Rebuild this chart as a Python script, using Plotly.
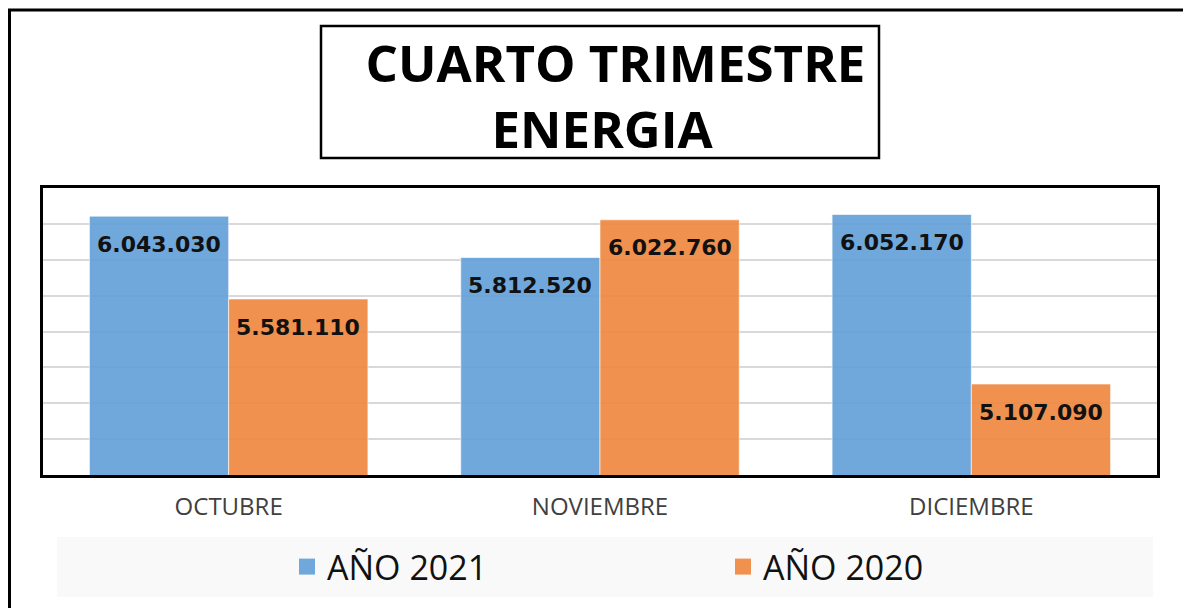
import plotly.graph_objects as go

months = ["OCTUBRE", "NOVIEMBRE", "DICIEMBRE"]
year_2021 = [6043030, 5812520, 6052170]
year_2020 = [5581110, 6022760, 5107090]
series_names = ["AÑO 2021", "AÑO 2020"]
title_lines = ["CUARTO TRIMESTRE", "ENERGIA"]

OFF = 8  # page body margin
W, H = 1191 - OFF, 608 - OFF
L, R, T, B = 43 - OFF, 1157 - OFF, 188 - OFF, 475 - OFF
pw, ph = R - L, B - T

def px(x):
    return (x - OFF - L) / pw

def py(y):
    return (B - (y - OFF)) / ph

def fmt(v):
    return f"{v:,}".replace(",", ".")

blue = "rgba(96,158,216,0.9)"
orange = "rgba(238,133,60,0.9)"

fig = go.Figure()
fig.add_trace(go.Bar(x=months, y=year_2021, name=series_names[0],
                     marker=dict(color=blue, line=dict(color="rgba(255,255,255,0.6)", width=1)),
                     showlegend=False))
fig.add_trace(go.Bar(x=months, y=year_2020, name=series_names[1],
                     marker=dict(color=orange, line=dict(color="rgba(255,255,255,0.6)", width=1)),
                     showlegend=False))
# legend proxies with larger squares
fig.add_trace(go.Scatter(x=[None], y=[None], mode="markers", name=series_names[0],
                         marker=dict(symbol="square", size=18, color="#70A8DC")))
fig.add_trace(go.Scatter(x=[None], y=[None], mode="markers", name=series_names[1],
                         marker=dict(symbol="square", size=18, color="#F0914F")))

annotations = []
bar_off = pw / 3 * 0.75 / 4
for vals, sh in ((year_2021, -bar_off), (year_2020, bar_off)):
    for m, v in zip(months, vals):
        annotations.append(dict(x=m, y=v, xref="x", yref="y", text=fmt(v), showarrow=False,
                                xshift=sh, yshift=-28, yanchor="middle",
                                font=dict(family="DejaVu Sans", size=22, color="#111111", weight="bold")))

annotations.append(dict(x=px(602), y=py(95), xref="paper", yref="paper",
                        text="\u00a0\u00a0" + title_lines[0] + "<br>" + title_lines[1],
                        showarrow=False, xanchor="center", yanchor="middle", align="center",
                        font=dict(family="Open Sans", size=51, color="black", weight="bold")))

shapes = [
    dict(type="rect", xref="paper", yref="paper", x0=px(9.5), x1=px(1200), y0=py(10), y1=py(620),
         line=dict(color="black", width=3), fillcolor="rgba(0,0,0,0)", layer="below"),
    dict(type="rect", xref="paper", yref="paper", x0=px(321), x1=px(879), y0=py(26), y1=py(158),
         line=dict(color="black", width=2.5), fillcolor="white", layer="below"),
    dict(type="rect", xref="paper", yref="paper", x0=px(57), x1=px(1153), y0=py(537), y1=py(597),
         line=dict(width=0), fillcolor="#f9f9f9", layer="below"),
]

fig.update_layout(
    width=W, height=H,
    margin=dict(l=L, r=W - R, t=T, b=H - B),
    paper_bgcolor="white", plot_bgcolor="white",
    barmode="group", bargap=0.25, bargroupgap=0.0,
    annotations=annotations, shapes=shapes,
    showlegend=True,
    legend=dict(orientation="h", x=px(287), xanchor="left", y=py(567), yanchor="middle",
                font=dict(family="Open Sans", size=34, color="#111111"),
                bgcolor="rgba(0,0,0,0)", entrywidth=391, entrywidthmode="pixels",
                itemsizing="trace"),
    xaxis=dict(showline=True, linecolor="black", linewidth=2.5, mirror=True,
               tickfont=dict(family="Open Sans", size=24, color="#404040"),
               ticks="", showgrid=False, ticklabelstandoff=8),
    yaxis=dict(range=[4600000, 6200000], dtick=200000, showticklabels=False,
               showgrid=True, gridcolor="#d9d9d9", gridwidth=1.5,
               showline=True, linecolor="black", linewidth=2.5, mirror=True,
               zeroline=False, ticks=""),
)

fig.write_html("out.html")
